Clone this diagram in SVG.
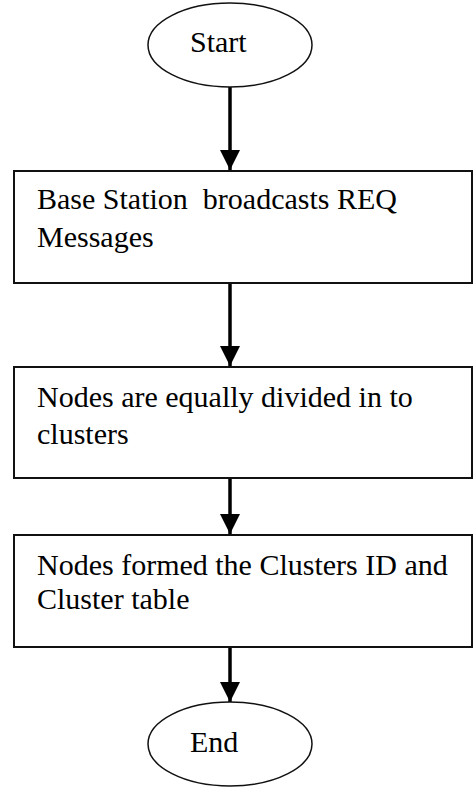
<svg xmlns="http://www.w3.org/2000/svg" width="474" height="788" viewBox="0 0 474 788">
<style>
  .box { fill: #fff; stroke: #111; stroke-width: 2; }
  .term { fill: #fff; stroke: #111; stroke-width: 1.5; }
  .lbl { font-family: "Liberation Serif", "Times New Roman", serif; font-size: 30px; fill: #000; white-space: pre; }
  .edge { stroke: #000; stroke-width: 3.5; fill: none; }
</style>
<defs>
  <marker id="arrow" markerUnits="userSpaceOnUse" markerWidth="20" markerHeight="20" refX="20" refY="10" orient="auto" viewBox="0 0 20 20">
    <path d="M0,0 L20,10 L0,20 Z" fill="#000"/>
  </marker>
</defs>
<rect width="474" height="788" fill="#fff"/>
<g id="connectors">
  <line class="edge" x1="230" y1="87" x2="230" y2="170" marker-end="url(#arrow)"/>
  <line class="edge" x1="230" y1="284" x2="230" y2="366" marker-end="url(#arrow)"/>
  <line class="edge" x1="230" y1="479" x2="230" y2="534" marker-end="url(#arrow)"/>
  <line class="edge" x1="230" y1="648" x2="230" y2="702" marker-end="url(#arrow)"/>
</g>
<g id="start">
  <ellipse class="term" cx="230" cy="45" rx="82" ry="42"/>
  <text class="lbl" x="190" y="52">Start</text>
</g>
<g id="broadcast">
  <rect class="box" x="14" y="171" width="458" height="112"/>
  <text class="lbl" x="37" y="209">Base Station  broadcasts REQ</text>
  <text class="lbl" x="37" y="247">Messages</text>
</g>
<g id="divide">
  <rect class="box" x="14" y="367" width="458" height="111"/>
  <text class="lbl" x="37" y="407">Nodes are equally divided in to</text>
  <text class="lbl" x="37" y="444">clusters</text>
</g>
<g id="form">
  <rect class="box" x="14" y="535" width="458" height="112"/>
  <text class="lbl" x="37" y="575">Nodes formed the Clusters ID and</text>
  <text class="lbl" x="37" y="609">Cluster table</text>
</g>
<g id="end">
  <ellipse class="term" cx="230" cy="744" rx="82" ry="42"/>
  <text class="lbl" x="190" y="752">End</text>
</g>
</svg>
